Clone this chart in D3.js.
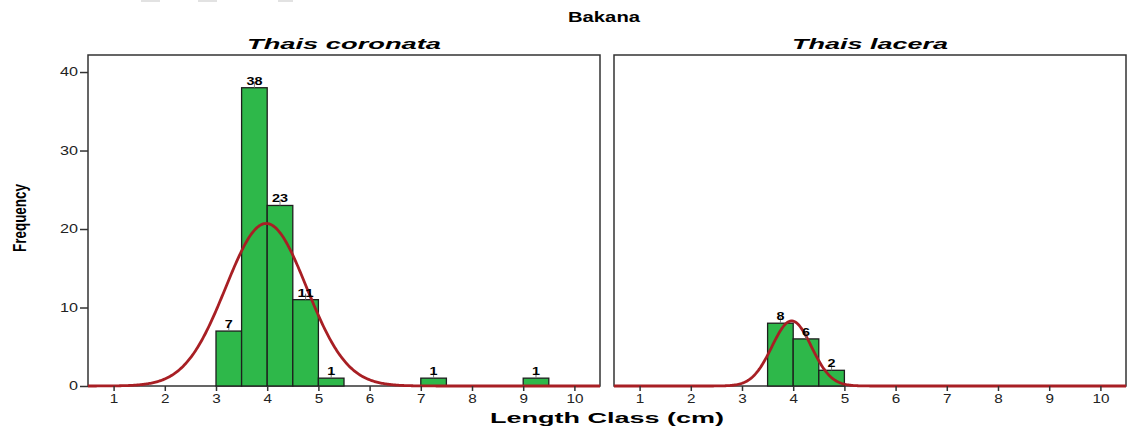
<!DOCTYPE html>
<html><head><meta charset="utf-8">
<script src="https://cdn.jsdelivr.net/npm/d3@7/dist/d3.min.js"></script>
<style>body{margin:0;background:#fff}svg{display:block}text{font-family:"Liberation Sans",Arial,sans-serif}</style>
</head><body>
<script>
const chartTitle = "Bakana";
const panelTitles = ["Thais coronata", "Thais lacera"];
const xTicks = [1,2,3,4,5,6,7,8,9,10];
const yTicks = [0,10,20,30,40];
const binWidth = 0.5;
const coronataBins = [3, 3.5, 4, 4.5, 5, 7, 9];
const coronataCounts = [7, 38, 23, 11, 1, 1, 1];
const laceraBins = [3.5, 4, 4.5];
const laceraCounts = [8, 6, 2];
const coronataFit = {mean: 3.98, sd: 0.79};
const laceraFit = {mean: 3.97, sd: 0.385};

const W = 1127, H = 429;
const svg = d3.select("body").append("svg").attr("width", W).attr("height", H);

// artifact marks at top
[[141,19],[198,19],[278,15]].forEach(([x,w]) => svg.append("rect").attr("x",x).attr("y",0).attr("width",w).attr("height",2).attr("fill","#e2e2e2"));

const y = d3.scaleLinear().domain([0, 42.17]).range([386, 55]);
const panels = [
  {x0: 88, x1: 600, bins: coronataBins, counts: coronataCounts, fit: coronataFit, title: panelTitles[0], tl: 194, yAxis: true},
  {x0: 614, x1: 1126, bins: laceraBins, counts: laceraCounts, fit: laceraFit, title: panelTitles[1], tl: 156, yAxis: false}
];

svg.append("text").attr("x", 604).attr("y", 22).attr("text-anchor","middle")
  .attr("font-weight","bold").attr("font-size", 14).attr("textLength", 72).attr("lengthAdjust","spacingAndGlyphs").text(chartTitle);

function stretch(sel, per) {
  sel.each(function() { const t = d3.select(this); t.attr("textLength", per * t.text().length).attr("lengthAdjust","spacingAndGlyphs"); });
}

panels.forEach(p => {
  const x = d3.scaleLinear().domain([0.5, 10.5]).range([p.x0, p.x1]);
  const g = svg.append("g");
  g.append("text").attr("x", (p.x0+p.x1)/2).attr("y", 49).attr("text-anchor","middle")
    .attr("font-weight","bold").attr("font-style","italic").attr("font-size",14)
    .attr("textLength", p.tl).attr("lengthAdjust","spacingAndGlyphs").text(p.title);
  g.append("rect").attr("x", p.x0).attr("y", 55).attr("width", p.x1-p.x0).attr("height", 386-55)
    .attr("fill","none").attr("stroke","#333").attr("stroke-width",1.5);
  const data = p.bins.map((b,i)=>({b, c: p.counts[i]}));
  g.selectAll("rect.bar").data(data).join("rect").attr("class","bar")
    .attr("x", d=>x(d.b)).attr("width", d=>x(d.b+binWidth)-x(d.b))
    .attr("y", d=>y(d.c)).attr("height", d=>y(0)-y(d.c))
    .attr("fill","#2eb84a").attr("stroke","#1e1e1e").attr("stroke-width",1.3);
  const total = p.counts.reduce((a,b)=>a+b,0);
  const pts = d3.range(0.5, 10.501, 0.02).map(v => [v, total*binWidth/(p.fit.sd*Math.sqrt(2*Math.PI))*Math.exp(-0.5*((v-p.fit.mean)/p.fit.sd)**2)]);
  g.append("path").datum(pts).attr("fill","none").attr("stroke","#a81f24").attr("stroke-width",2.8)
    .attr("d", d3.line().x(d=>x(d[0])).y(d=>y(d[1])));
  g.selectAll("line.conn").data(data).join("line").attr("class","conn")
    .attr("x1", d=>x(d.b+binWidth/2)).attr("x2", d=>x(d.b+binWidth/2))
    .attr("y1", d=>y(d.c)-6).attr("y2", d=>y(d.c)).attr("stroke","#777").attr("stroke-width",1);
  const labs = g.selectAll("text.lab").data(data).join("text").attr("class","lab")
    .attr("x", d=>x(d.b+binWidth/2)).attr("y", d=>y(d.c)-3).attr("text-anchor","middle")
    .attr("font-weight","bold").attr("font-size",11.5).text(d=>d.c);
  stretch(labs, 8);
  const xa = g.append("g").attr("transform","translate(0,386)")
    .call(d3.axisBottom(x).tickValues(xTicks).tickSize(5).tickPadding(3));
  xa.select(".domain").remove();
  xa.selectAll("line").attr("stroke","#333").attr("stroke-width",1.5);
  xa.selectAll("text").attr("font-size",12).attr("fill","#222").style("font-family","Liberation Sans, Arial").attr("dy","0.75em");
  stretch(xa.selectAll("text"), 8.5);
  if (p.yAxis) {
    const ya = g.append("g").attr("transform",`translate(${p.x0},0)`)
      .call(d3.axisLeft(y).tickValues(yTicks).tickSize(8).tickPadding(2));
    ya.select(".domain").remove();
    ya.selectAll("line").attr("stroke","#333").attr("stroke-width",1.5);
    ya.selectAll("text").attr("font-size",12).attr("fill","#222").style("font-family","Liberation Sans, Arial");
    stretch(ya.selectAll("text"), 9);
  }
});

svg.append("text").attr("x", 607).attr("y", 423).attr("text-anchor","middle")
  .attr("font-weight","bold").attr("font-size",15).attr("textLength",234).attr("lengthAdjust","spacingAndGlyphs").text("Length Class (cm)");
svg.append("text").attr("transform","translate(26,218) rotate(-90)").attr("text-anchor","middle")
  .attr("font-weight","bold").attr("font-size",18).attr("textLength",68).attr("lengthAdjust","spacingAndGlyphs").text("Frequency");
</script>
</body></html>
